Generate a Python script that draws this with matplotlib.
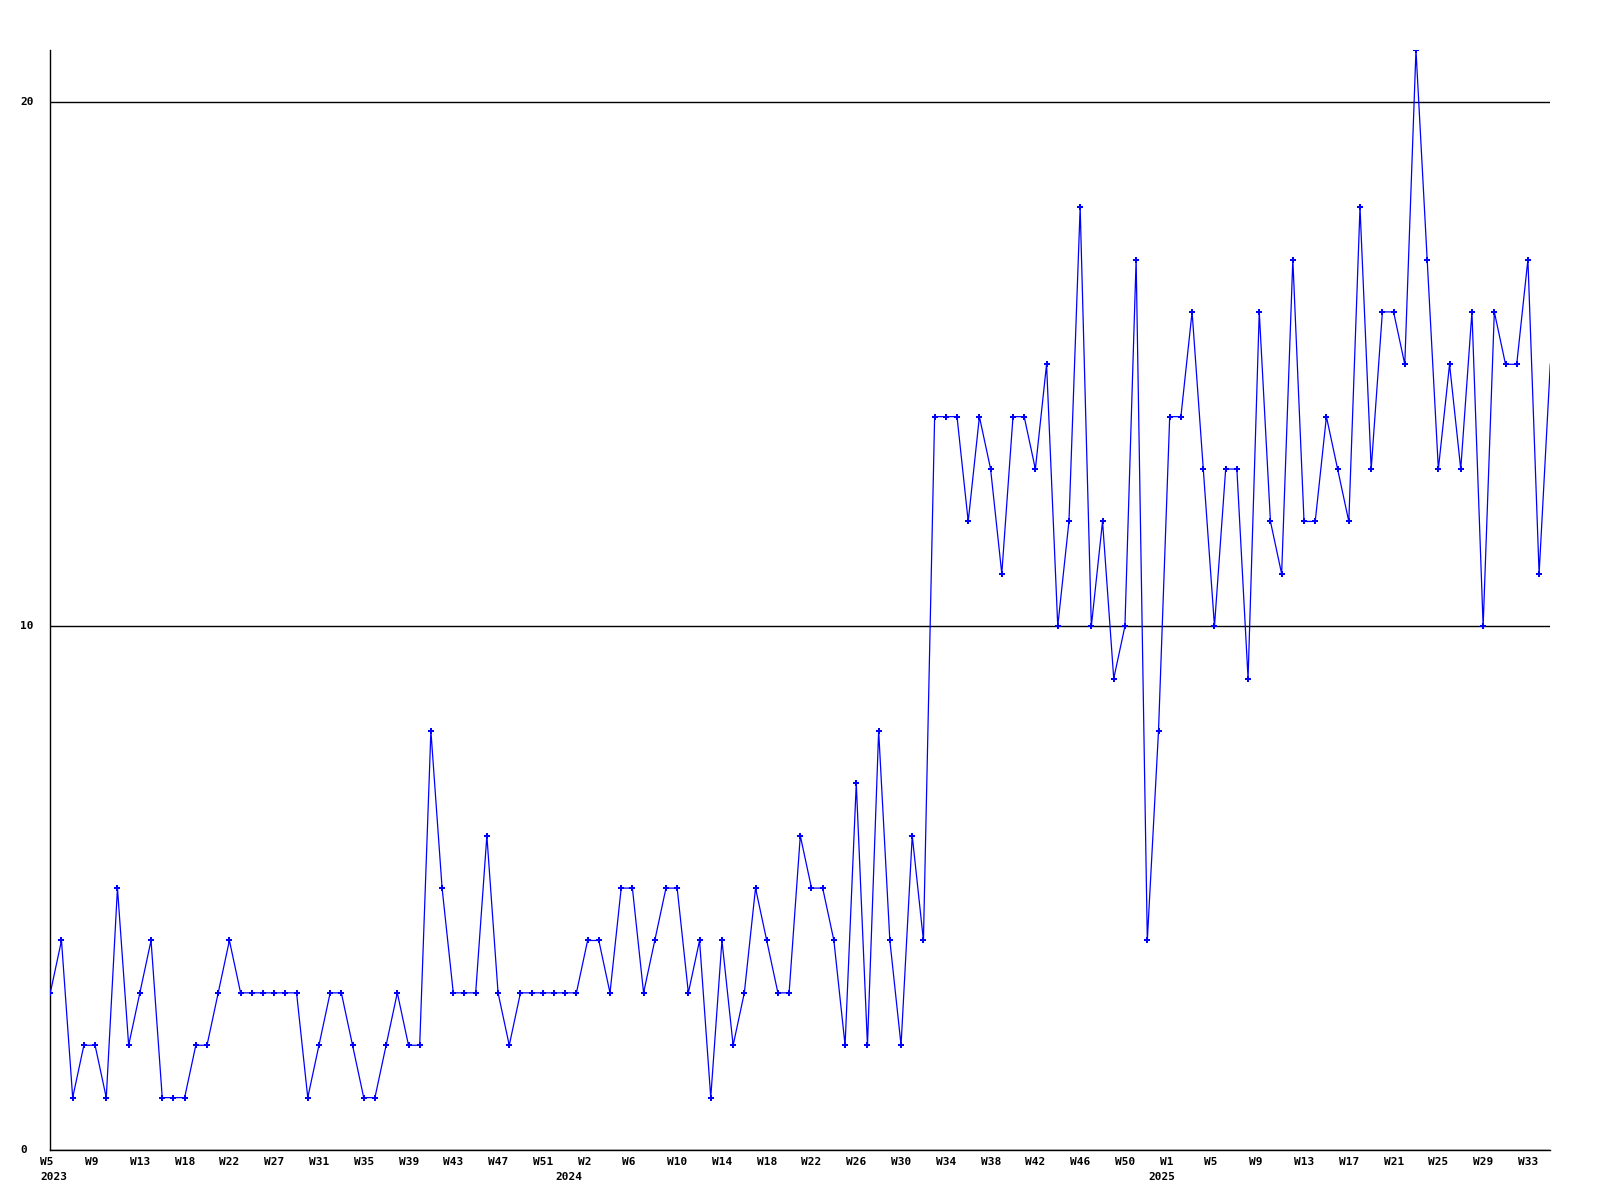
import matplotlib
matplotlib.use("Agg")
import matplotlib.pyplot as plt
import matplotlib.transforms as mtransforms

# weekly counts, 2023 W5 .. 2025 W34
values = [
    3, 4, 1, 2, 2, 1, 5, 2, 3, 4, 1, 1, 1, 2, 2, 3, 4, 3, 3, 3,
    3, 3, 3, 1, 2, 3, 3, 2, 1, 1, 2, 3, 2, 2, 8, 5, 3, 3, 3, 6,
    3, 2, 3, 3, 3, 3, 3, 3, 4, 4, 3, 5, 5, 3, 4, 5, 5, 3, 4, 1,
    4, 2, 3, 5, 4, 3, 3, 6, 5, 5, 4, 2, 7, 2, 8, 4, 2, 6, 4, 14,
    14, 14, 12, 14, 13, 11, 14, 14, 13, 15, 10, 12, 18, 10, 12, 9, 10, 17, 4, 8,
    14, 14, 16, 13, 10, 13, 13, 9, 16, 12, 11, 17, 12, 12, 14, 13, 12, 18, 13, 16,
    16, 15, 21, 17, 13, 15, 13, 16, 10, 16, 15, 15, 17, 11, 15,
]

week_labels = [
    "W5", "W9", "W13", "W18", "W22", "W27", "W31", "W35", "W39", "W43", "W47", "W51",
    "W2", "W6", "W10", "W14", "W18", "W22", "W26", "W30", "W34", "W38", "W42", "W46", "W50",
    "W1", "W5", "W9", "W13", "W17", "W21", "W25", "W29", "W33",
]
label_step = 4

year_labels = ["2023", "2024", "2025"]
year_index = [0, 46, 99]

y_ticks = [0, 10, 20]

FONT = dict(family="DejaVu Sans Mono", weight="bold", size=8, color="black")

fig = plt.figure(figsize=(16, 12), dpi=100)
ax = fig.add_axes([50.3 / 1600, 50 / 1200, 1500 / 1600, 1100 / 1200])

x = list(range(len(values)))
# last point sits on the right edge, its marker is not shown in the original
ax.plot(x, values, color="#0000ff", lw=0.9, marker="P", markersize=3.8,
        markeredgewidth=0, markevery=slice(0, len(values) - 1), zorder=3)

ax.set_xlim(0, len(values) - 1)
ax.set_ylim(0, 21)

for s in ["top", "right"]:
    ax.spines[s].set_visible(False)
for s in ["left", "bottom"]:
    ax.spines[s].set_color("black")
    ax.spines[s].set_linewidth(1.0)

ax.set_xticks([])
ax.set_yticks(y_ticks)
ax.set_yticklabels([])
ax.tick_params(length=0)
ax.grid(True, axis="y", color="black", lw=1.0)
ax.set_axisbelow(True)

# week labels under every 4th point, left aligned a bit before the point
xtrans = mtransforms.blended_transform_factory(ax.transData, ax.transAxes)
wk_off = mtransforms.ScaledTranslation(-0.10, -0.12, fig.dpi_scale_trans)
yr_off = mtransforms.ScaledTranslation(-0.10, -0.27, fig.dpi_scale_trans)
for k, lab in enumerate(week_labels):
    ax.text(k * label_step, 0, lab, transform=xtrans + wk_off,
            ha="left", va="center", clip_on=False, **FONT)
for pos, lab in zip(year_index, year_labels):
    ax.text(pos, 0, lab, transform=xtrans + yr_off,
            ha="left", va="center", clip_on=False, **FONT)

ytrans = mtransforms.blended_transform_factory(fig.transFigure, ax.transData)
for v in y_ticks:
    ax.text(20 / 1600, v, str(v), transform=ytrans,
            ha="left", va="center", clip_on=False, **FONT)

fig.savefig("out.png", dpi=100)
